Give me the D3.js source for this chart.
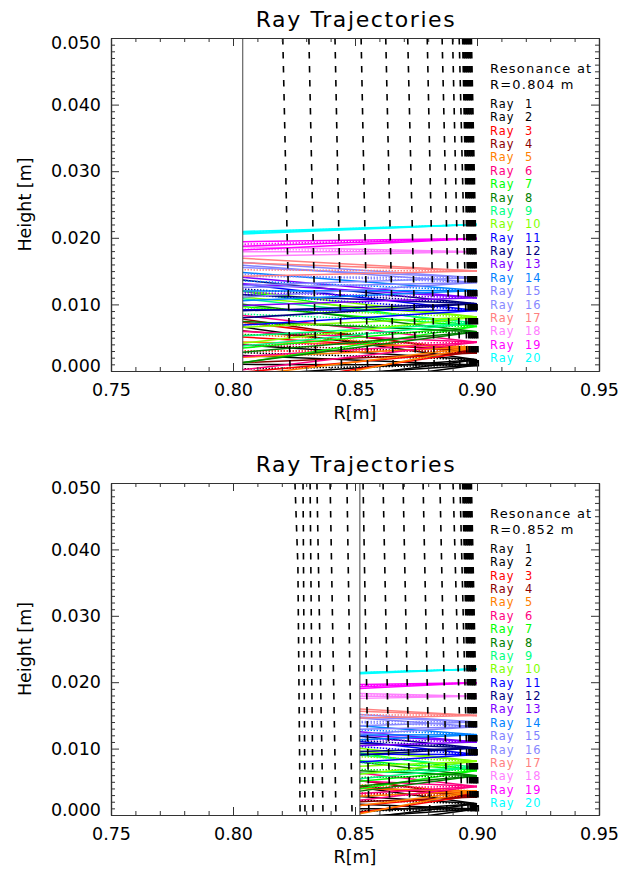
<!DOCTYPE html>
<html><head><meta charset="utf-8">
<script src="https://cdn.jsdelivr.net/npm/d3@7/dist/d3.min.js"></script>
<style>
body{margin:0;background:#fff}
svg{display:block}
text{font-family:"DejaVu Sans",sans-serif}
</style>
</head><body>
<script>
// ---------------- data ----------------
const rayNames = ["1","2","3","4","5","6","7","8","9","10","11","12","13","14","15","16","17","18","19","20"];
const rayColors = ["#000000","#000000","#ff0000","#8b0000","#ff8000","#ff0080","#00ff00","#008000","#00ff80","#80ff00",
                   "#0000ff","#000080","#8000ff","#0080ff","#8080ff","#8888ff","#ff8080","#ff80ff","#ff00ff","#00ffff"];
// launch height (mm) at R = 0.90 m
const rayStartH = [0.9, 1.7, 3.0, 2.7, 3.6, 4.3, 6.7, 5.9, 7.2, 8.1, 9.1, 10.1, 11.0, 12.1, 13.3, 14.0, 15.0, 17.9, 19.9, 22.0];
// heights (mm) reached at R = 0.80 m for each member of the ray bundle
const rayEndH = [
  [2.4, 1.0, -1.5, -4.0],
  [4.0, 6.8, -0.8, -3.0],
  [7.5, 5.2, -0.3, -2.5],
  [8.0, 6.2, 1.2],
  [4.4, 2.0, -0.9, -3.5],
  [8.5, 6.0, 2.1, 0.0],
  [12.2, 9.8, 3.3, 1.0],
  [10.2, 7.5, 2.7, 1.1],
  [11.0, 5.2, 3.6],
  [12.2, 11.2, 6.5, 4.0],
  [13.2, 9.2, 6.8],
  [13.8, 11.5, 9.0, 7.9],
  [14.2, 13.2, 9.8],
  [14.9, 12.0, 10.5],
  [16.0, 12.5, 11.0],
  [16.4, 15.6, 12.8],
  [17.0, 16.3, 14.2],
  [18.7, 17.9, 17.2],
  [19.4, 18.7, 18.1],
  [20.5, 20.7, 20.9]
];
// dotted member of each bundle, height (mm) at R = 0.80 m
const rayDotEndH = [0.3, 2.8, 3.0, 4.0, 5.6, 3.9, 7.0, 5.4, 8.6, 9.5, 11.6, 12.4, 11.8, 13.6, 14.6, 14.2, 15.2, 18.3, 19.0, 20.8];

const resonanceR = [0.804, 0.852];

// dashed contour lines: R at top (h=0.050) and at bottom (h=0.000)
const dashTopR_1 = [0.8204,0.8311,0.8418,0.8525,0.8626,0.8716,0.8796,0.8857,0.8900,0.8927];
const dashBotR_1 = [0.8234,0.8340,0.8445,0.8552,0.8657,0.8749,0.8825,0.8889,0.8930,0.8960];
const denseTopR_1 = [0.8943,0.8951,0.8959,0.8967,0.8975];
const denseBotR_1 = [0.8971,0.8980,0.8988,0.8996,0.9004];
const dashTopR_2 = [0.8287,0.8316,0.8344,0.8398,0.8467,0.8533,0.8615,0.8697,0.8779,0.8848,0.8902,0.8930];
const dashBotR_2 = [0.8295,0.8328,0.8369,0.8422,0.8488,0.8557,0.8643,0.8725,0.8807,0.8877,0.8939,0.8964];
const denseTopR_2 = [0.8943,0.8951,0.8959,0.8967,0.8975];
const denseBotR_2 = [0.8975,0.8984,0.8992,0.8998,0.9004];
// bent contour in the lower panel
const curveR_2 = [0.8254, 0.8266, 0.8275];
const curveH_2 = [0.050, 0.0375, 0.000];

const xTickValues = [0.75, 0.80, 0.85, 0.90, 0.95];
const xTickLabels = ["0.75","0.80","0.85","0.90","0.95"];
const yTickValues = [0.00, 0.01, 0.02, 0.03, 0.04, 0.05];
const yTickLabels = ["0.000","0.010","0.020","0.030","0.040","0.050"];

// ---------------- drawing ----------------
const W = 623, H = 875;
const svg = d3.select("body").append("svg").attr("width", W).attr("height", H);

const panels = [
  {top: 38, bottom: 371, res: resonanceR[0], dTop: dashTopR_1, dBot: dashBotR_1, nTop: denseTopR_1, nBot: denseBotR_1, curve: null},
  {top: 483, bottom: 815, res: resonanceR[1], dTop: dashTopR_2, dBot: dashBotR_2, nTop: denseTopR_2, nBot: denseBotR_2, curve: {r: curveR_2, h: curveH_2}}
];
const left = 111, right = 599;
const axisColor = "#333";

panels.forEach((p, pi) => {
  const x = d3.scaleLinear().domain([0.75, 0.95]).range([left, right]);
  const y = d3.scaleLinear().domain([0, 0.05]).range([p.bottom, p.top]);
  const g = svg.append("g");
  const clipId = "clip" + pi;
  svg.append("clipPath").attr("id", clipId).append("rect")
    .attr("x", left).attr("y", p.top).attr("width", right - left).attr("height", p.bottom - p.top);

  const plot = g.append("g").attr("clip-path", `url(#${clipId})`);
  const line = d3.line().x(d => x(d[0])).y(d => y(d[1] / 1000));

  // rays
  rayStartH.forEach((h0, i) => {
    const frac = (0.90 - p.res) / 0.10;
    rayEndH[i].forEach(e => {
      plot.append("path")
        .attr("d", line([[0.90, h0], [p.res, h0 + (e - h0) * frac]]))
        .attr("stroke", rayColors[i]).attr("stroke-width", 1.5).attr("fill", "none");
    });
    const ed = rayDotEndH[i];
    plot.append("path")
      .attr("d", line([[0.90, h0], [p.res, h0 + (ed - h0) * frac]]))
      .attr("stroke", rayColors[i]).attr("stroke-width", 1.5).attr("fill", "none")
      .attr("stroke-dasharray", "1.5,1.5");
  });

  // dashed contours
  const dl = d3.line().x(d => x(d[0])).y(d => y(d[1]));
  p.dTop.forEach((rt, k) => {
    plot.append("path").attr("d", dl([[rt, 0.05], [p.dBot[k], 0]]))
      .attr("stroke", "#000").attr("stroke-width", 1.6).attr("fill", "none")
      .attr("stroke-dasharray", "6.5,7.5");
  });
  p.nTop.forEach((rt, k) => {
    plot.append("path").attr("d", dl([[rt, 0.05], [p.nBot[k], 0]]))
      .attr("stroke", "#000").attr("stroke-width", 2.6).attr("fill", "none")
      .attr("stroke-dasharray", "6.5,7.5");
  });
  if (p.curve) {
    plot.append("path").attr("d", dl(p.curve.r.map((r, k) => [r, p.curve.h[k]])))
      .attr("stroke", "#000").attr("stroke-width", 1.6).attr("fill", "none")
      .attr("stroke-dasharray", "6.5,7.5");
  }

  // resonance line
  plot.append("line").attr("x1", x(p.res)).attr("x2", x(p.res))
    .attr("y1", p.top).attr("y2", p.bottom).attr("stroke", "#444").attr("stroke-width", 1);

  // axes
  const xMinor = d3.range(0.76, 0.95, 0.01).filter(v => Math.abs(v * 20 - Math.round(v * 20)) > 1e-6);
  const yMinor = d3.range(0.001, 0.05, 0.001).filter(v => Math.abs(v * 100 - Math.round(v * 100)) > 1e-6);

  g.append("g").attr("transform", `translate(0,${p.bottom})`)
    .call(d3.axisBottom(x).tickValues(xTickValues).tickSize(-8).tickSizeOuter(0).tickPadding(13)
      .tickFormat((d, i) => xTickLabels[i]));
  g.append("g").attr("transform", `translate(0,${p.bottom})`)
    .call(d3.axisBottom(x).tickValues(xMinor).tickSize(-4).tickSizeOuter(0).tickFormat(""));
  g.append("g").attr("transform", `translate(0,${p.top})`)
    .call(d3.axisTop(x).tickValues(xTickValues).tickSize(-8).tickSizeOuter(0).tickFormat(""));
  g.append("g").attr("transform", `translate(0,${p.top})`)
    .call(d3.axisTop(x).tickValues(xMinor).tickSize(-4).tickSizeOuter(0).tickFormat(""));

  const axL = g.append("g").attr("transform", `translate(${left},0)`)
    .call(d3.axisLeft(y).tickValues(yTickValues).tickSize(-8).tickSizeOuter(0).tickPadding(10)
      .tickFormat((d, i) => yTickLabels[i]));
  g.append("g").attr("transform", `translate(${left},0)`)
    .call(d3.axisLeft(y).tickValues(yMinor).tickSize(-4).tickSizeOuter(0).tickFormat(""));
  g.append("g").attr("transform", `translate(${right},0)`)
    .call(d3.axisRight(y).tickValues(yTickValues).tickSize(-8).tickSizeOuter(0).tickFormat(""));
  g.append("g").attr("transform", `translate(${right},0)`)
    .call(d3.axisRight(y).tickValues(yMinor).tickSize(-4).tickSizeOuter(0).tickFormat(""));

  g.selectAll(".domain").attr("stroke", axisColor).attr("stroke-width", 1.2);
  g.selectAll(".tick line").attr("stroke", axisColor).attr("stroke-width", 1);
  g.selectAll(".tick text").attr("font-family", "DejaVu Sans").attr("font-size", 17.5).attr("fill", "#000");
  axL.selectAll(".tick text").attr("dy", d => d === 0.05 ? "0.62em" : (d === 0 ? "0.0em" : "0.32em"));

  // titles
  g.append("text").attr("x", (left + right) / 2 + 1).attr("y", p.top - 11)
    .attr("text-anchor", "middle").attr("font-size", 22).attr("letter-spacing", 1.6)
    .text("Ray Trajectories");
  g.append("text").attr("x", (left + right) / 2).attr("y", p.bottom + 48)
    .attr("text-anchor", "middle").attr("font-size", 17.5).text("R[m]");
  g.append("text").attr("transform", `translate(31,${(p.top + p.bottom) / 2}) rotate(-90)`)
    .attr("text-anchor", "middle").attr("font-size", 17.5).text("Height [m]");

  // legend
  const lx = 490;
  g.append("text").attr("x", lx).attr("y", p.top + 35).attr("font-size", 13)
    .attr("letter-spacing", 1.2).text("Resonance at");
  g.append("text").attr("x", lx).attr("y", p.top + 50.5).attr("font-size", 13)
    .attr("letter-spacing", 1.2).text("R=" + p.res.toFixed(3) + "  m");
  rayNames.forEach((n, i) => {
    const t = g.append("text").attr("x", lx).attr("y", p.top + 70 + i * 13.37)
      .attr("font-size", 11.4).attr("letter-spacing", 1.1).attr("fill", rayColors[i]);
    t.append("tspan").text("Ray");
    t.append("tspan").attr("x", lx + 35).text(n);
  });
});
</script>
</body></html>
